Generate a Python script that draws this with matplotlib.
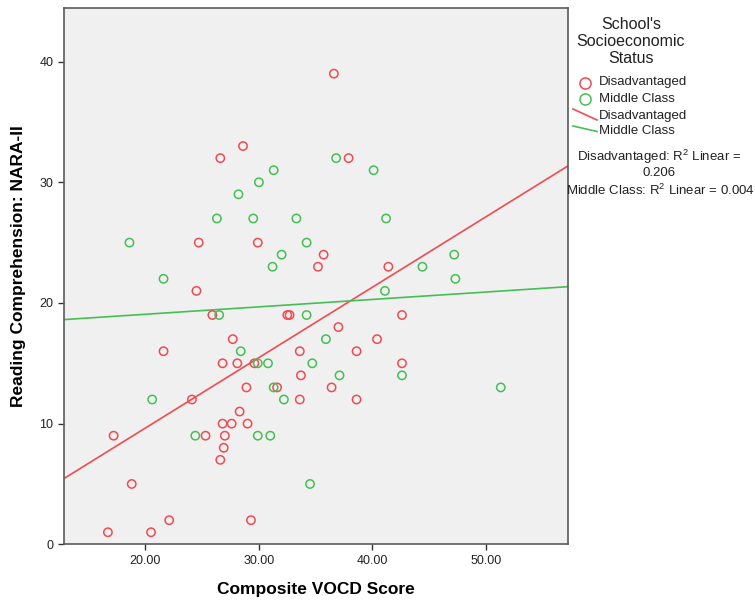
# Reading comprehension vs composite VOCD score, by school SES
import numpy as np
import matplotlib.pyplot as plt
from matplotlib.lines import Line2D

plt.rcParams['font.family'] = ['Liberation Sans', 'DejaVu Sans']
plt.rcParams['mathtext.fontset'] = 'custom'
plt.rcParams['mathtext.rm'] = 'Liberation Sans'

# Disadvantaged schools
dis_vocd = [28.6, 26.6, 24.7, 29.9, 35.2, 36.6, 37.9, 35.7, 41.4, 24.5, 25.9, 32.5, 32.7,
            27.7, 21.6, 33.6, 26.8, 28.1, 29.6, 33.7, 28.9, 31.6, 24.1, 33.6, 28.3, 26.8,
            27.6, 29.0, 17.2, 25.3, 27.0, 26.9, 26.6, 18.8, 22.1, 29.3, 16.7, 20.5, 42.6,
            37.0, 40.4, 38.6, 42.6, 36.4, 38.6]
dis_nara = [33, 32, 25, 25, 23, 39, 32, 24, 23, 21, 19, 19, 19,
            17, 16, 16, 15, 15, 15, 14, 13, 13, 12, 12, 11, 10,
            10, 10, 9, 9, 9, 8, 7, 5, 2, 2, 1, 1, 19,
            18, 17, 16, 15, 13, 12]

# Middle class schools
mid_vocd = [31.3, 30.0, 28.2, 26.3, 29.5, 33.3, 18.6, 34.2, 32.0, 31.2, 21.6, 36.8, 40.1,
            41.2, 44.4, 47.2, 47.3, 26.5, 34.2, 28.4, 29.9, 30.8, 34.7, 31.3, 20.6, 32.2,
            24.4, 29.9, 31.0, 34.5, 41.1, 35.9, 37.1, 42.6, 51.3]
mid_nara = [31, 30, 29, 27, 27, 27, 25, 25, 24, 23, 22, 32, 31,
            27, 23, 24, 22, 19, 19, 16, 15, 15, 15, 13, 12, 12,
            9, 9, 9, 5, 21, 17, 14, 14, 13]

red = '#EF4C52'
green = '#45BF55'

fig = plt.figure(figsize=(7.55, 6.05), dpi=100)
ax = fig.add_axes([0.0844, 0.1003, 0.6676, 0.8857])
ax.set_facecolor('#F0F0F0')

xlim = (12.81, 57.2)
ax.set_xlim(*xlim)
ax.set_ylim(0, 44.4)

ax.scatter(dis_vocd, dis_nara, s=36, facecolors='none', edgecolors=red, linewidths=1.1, zorder=3)
ax.scatter(mid_vocd, mid_nara, s=36, facecolors='none', edgecolors=green, linewidths=1.1, zorder=3)

# fit lines across the whole axis
xs = np.array(xlim)
for x, y, c in [(dis_vocd, dis_nara, red), (mid_vocd, mid_nara, green)]:
    slope, icpt = np.polyfit(x, y, 1)
    ax.plot(xs, slope * xs + icpt, color=c, linewidth=1.2, zorder=2)

ax.set_xticks([20, 30, 40, 50])
ax.set_xticklabels(['20.00', '30.00', '40.00', '50.00'])
ax.set_yticks([0, 10, 20, 30, 40])
ax.tick_params(direction='out', length=4, width=1, color='#333333', labelsize=9, labelcolor='#222222')
for sp in ax.spines.values():
    sp.set_color('#5a5a5a')
    sp.set_linewidth(1.2)

fig.text(0.418, 0.025, 'Composite VOCD Score', ha='center', va='center', fontsize=12.5, fontweight='bold')
fig.text(0.024, 0.56, 'Reading Comprehension: NARA-II', ha='center', va='center',
         rotation=90, fontsize=12.5, fontweight='bold')

# legend drawn by hand, SPSS style
def fx(px):
    return px / 755

def fy(py):
    return 1 - py / 605

fig.text(fx(631), fy(41.5), "School's\nSocioeconomic\nStatus", ha='center', va='center',
         fontsize=11.5, linespacing=1.2, color='#222222')
fig.add_artist(Line2D([fx(585)], [fy(82.5)], marker='o', markersize=8, markerfacecolor='none',
                      markeredgecolor=red, markeredgewidth=1.1, transform=fig.transFigure))
fig.add_artist(Line2D([fx(585)], [fy(99)], marker='o', markersize=8, markerfacecolor='none',
                      markeredgecolor=green, markeredgewidth=1.1, transform=fig.transFigure))
fig.add_artist(Line2D([fx(573), fx(597)], [fy(109), fy(120)], color=red, linewidth=1.2,
                      transform=fig.transFigure))
fig.add_artist(Line2D([fx(573), fx(597)], [fy(126), fy(131.5)], color=green, linewidth=1.2,
                      transform=fig.transFigure))
for txt, py in [('Disadvantaged', 82.5), ('Middle Class', 99), ('Disadvantaged', 116), ('Middle Class', 131.5)]:
    fig.text(fx(599), fy(py), txt, ha='left', va='center', fontsize=9.5, color='#222222')

fig.text(fx(659), fy(156.5), r'Disadvantaged: R$^2$ Linear =', ha='center', va='center', fontsize=9.5, color='#222222')
fig.text(fx(659), fy(173.5), '0.206', ha='center', va='center', fontsize=9.5, color='#222222')
fig.text(fx(660), fy(190), r'Middle Class: R$^2$ Linear = 0.004', ha='center', va='center', fontsize=9.5, color='#222222')

fig.savefig('out.png', dpi=100, facecolor='white')
